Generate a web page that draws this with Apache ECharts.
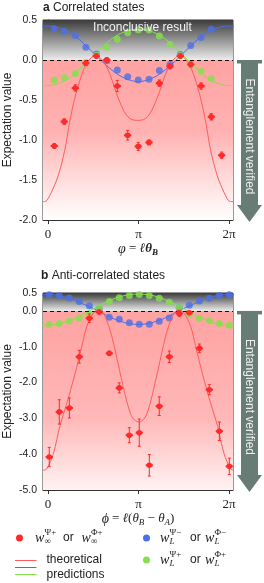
<!DOCTYPE html>
<html><head><meta charset="utf-8">
<script src="https://cdn.jsdelivr.net/npm/echarts@6/dist/echarts.min.js"></script>
<style>html,body{margin:0;padding:0;background:#fff}#c{width:264px;height:583px}</style>
</head><body><div id="c"></div>
<script>
// ---------- data ----------
const xTickValues = [0, 1, 2];            // in units of pi
const xTickLabels = ['0', 'π', '2π'];

// panel a: measured sample positions (units of pi)
const ptXA = [0.070,0.180,0.302,0.419,0.534,0.650,0.766,0.881,0.998,1.117,1.231,1.349,1.463,1.578,1.692,1.805,1.920];
const redA = [-1.075,-0.77,-0.35,-0.04,0.05,0.0,-0.325,-0.94,-1.08,-1.03,-0.29,-0.08,0.05,-0.055,-0.325,-0.71,-1.19];
const redErrA = [0.03,0.035,0.04,0.03,0.03,0.03,0.07,0.06,0.05,0.03,0.04,0.03,0.03,0.03,0.04,0.04,0.04];
const blueA = [0.39,0.355,0.305,0.16,0.075,-0.01,-0.125,-0.21,-0.25,-0.24,-0.13,-0.055,0.07,0.18,0.28,0.385];
const greenA = [-0.25,-0.22,-0.17,-0.03,0.06,0.16,0.26,0.34,0.375,0.375,0.30,0.195,0.055,-0.06,-0.14,-0.235];

// panel b
const ptXB = [0.014,0.125,0.236,0.346,0.457,0.567,0.678,0.788,0.899,1.009,1.120,1.230,1.341,1.451,1.562,1.673,1.783,1.894,2.004];
const redB = [-4.08,-2.82,-2.71,-1.28,-0.205,-0.03,-1.185,-2.15,-3.47,-3.40,-4.31,-2.66,-1.28,-0.07,-0.05,-1.045,-2.2,-3.36,-4.34];
const redErrB = [0.27,0.34,0.28,0.18,0.12,0.05,0.06,0.14,0.21,0.38,0.3,0.26,0.16,0.08,0.05,0.12,0.14,0.26,0.23];
const blueB = [0.448,0.425,0.36,0.26,0.145,0.06,-0.18,-0.235,-0.33,-0.37,-0.37,-0.29,-0.2,0.08,0.155,0.28,0.355,0.43,0.448];
const greenB = [-0.38,-0.355,-0.285,-0.2,-0.08,0.08,0.26,0.365,0.43,0.455,0.43,0.355,0.245,0.085,-0.09,-0.205,-0.27,-0.355,-0.40];
const hErr = 0.04;

// theoretical curves
const redCurveAx = [-0.052,-0.022,0.022,0.055,0.096,0.133,0.169,0.199,0.224,0.265,0.310,0.354,0.398,0.442,0.486,0.531,0.575,0.619,0.663,0.708,0.752,0.796,0.840,0.884,0.929,0.992,1.055,1.099,1.143,1.187,1.232,1.276,1.320,1.364,1.409,1.453,1.497,1.541,1.585,1.630,1.674,1.718,1.759,1.784,1.814,1.851,1.887,1.928,1.961,2.006,2.049];
const redCurveAy = [-1.77,-1.765,-1.69,-1.61,-1.5,-1.37,-1.21,-1.05,-0.875,-0.63,-0.42,-0.25,-0.11,-0.02,0.035,0.05,0.03,-0.03,-0.12,-0.25,-0.4,-0.53,-0.64,-0.71,-0.745,-0.755,-0.745,-0.71,-0.64,-0.53,-0.4,-0.25,-0.12,-0.03,0.03,0.05,0.035,-0.02,-0.11,-0.25,-0.42,-0.63,-0.875,-1.05,-1.21,-1.37,-1.5,-1.61,-1.69,-1.765,-1.77];
const redCurveBx = [-0.052,-0.014,0.059,0.133,0.207,0.299,0.373,0.428,0.501,0.556,0.611,0.685,0.741,0.815,0.888,0.940,1.003,1.066,1.118,1.191,1.265,1.320,1.394,1.449,1.505,1.578,1.633,1.707,1.799,1.873,1.947,2.020,2.058];
const redCurveBy = [-4.45,-4.41,-3.99,-3.2,-2.59,-1.75,-1.0,-0.44,-0.065,0.03,-0.065,-0.53,-1.09,-1.93,-2.68,-3.0,-3.10,-3.0,-2.68,-1.93,-1.09,-0.53,-0.065,0.03,-0.065,-0.44,-1.0,-1.75,-2.59,-3.2,-3.99,-4.41,-4.45];
const curveX = [-0.1,0,0.1,0.2,0.3,0.4,0.5,0.6,0.7,0.8,0.9,1.0,1.1,1.2,1.3,1.4,1.5,1.6,1.7,1.8,1.9,2.0,2.1];
const blueCurveA = [0.41,0.425,0.41,0.37,0.30,0.20,0.09,-0.02,-0.12,-0.20,-0.25,-0.27,-0.25,-0.20,-0.12,-0.02,0.09,0.20,0.30,0.37,0.41,0.425,0.41];
const greenCurveA = [-0.30,-0.32,-0.30,-0.25,-0.17,-0.06,0.05,0.16,0.26,0.33,0.37,0.385,0.37,0.33,0.26,0.16,0.05,-0.06,-0.17,-0.25,-0.30,-0.32,-0.30];
const blueCurveB = [0.44,0.46,0.44,0.38,0.29,0.18,0.07,-0.06,-0.19,-0.29,-0.355,-0.38,-0.355,-0.29,-0.19,-0.06,0.07,0.18,0.29,0.38,0.44,0.46,0.44];
const greenCurveB = [-0.38,-0.40,-0.38,-0.31,-0.21,-0.08,0.06,0.19,0.31,0.40,0.455,0.47,0.455,0.40,0.31,0.19,0.06,-0.08,-0.21,-0.31,-0.38,-0.40,-0.38];

// ---------- style ----------
const RED = '#ff2a2a', REDL = '#ff5c5c', BLUE = '#4d6fe6', GREEN = '#86e04c';
const SANS = 'Liberation Sans, Arial, sans-serif', SERIF = 'Liberation Serif, Times New Roman, serif';
const XMIN = -0.055, XMAX = 2.045;

const zip = (xs, ys) => ys.map((y, i) => [xs[i], y]);

function xAxis(gi, nameRich, name) {
  return {
    type: 'value', gridIndex: gi, min: XMIN, max: XMAX,
    splitLine: { show: false },
    axisLine: { show: true, onZero: false, lineStyle: { color: '#333', width: 1 } },
    axisTick: { show: true, customValues: xTickValues, length: 4, lineStyle: { color: '#333' } },
    axisLabel: { customValues: xTickValues, formatter: v => xTickLabels[xTickValues.indexOf(Math.round(v))],
      fontFamily: SERIF, fontSize: 13, color: '#222', margin: 8 },
    name: name, nameLocation: 'middle', nameGap: 17,
    nameTextStyle: { color: '#222', rich: nameRich }
  };
}
function yAxis(gi, min, max, interval) {
  return {
    type: 'value', gridIndex: gi, min, max, interval,
    splitLine: { show: false },
    axisLine: { show: true, lineStyle: { color: '#333' } },
    axisTick: { show: true, length: 4, lineStyle: { color: '#333' } },
    axisLabel: { formatter: v => v.toFixed(1), fontFamily: SANS, fontSize: 10.5, color: '#222', margin: 6 },
    name: 'Expectation value', nameLocation: 'middle', nameGap: 29, nameMoveOverlap: false,
    nameTextStyle: { fontFamily: SANS, fontSize: 12, color: '#222' }
  };
}
function background(gi, ymin, ymax, pinkStops) {
  return {
    type: 'scatter', xAxisIndex: gi, yAxisIndex: gi, data: [], z: 1, silent: true,
    markArea: {
      silent: true,
      data: [
        [{ yAxis: ymax, itemStyle: { color: { type: 'linear', x: 0, y: 0, x2: 0, y2: 1,
            colorStops: [{ offset: 0, color: '#3c3c3c' }, { offset: 1, color: '#ececec' }] } } }, { yAxis: 0 }],
        [{ yAxis: 0, itemStyle: { color: { type: 'linear', x: 0, y: 0, x2: 0, y2: 1, colorStops: pinkStops } } }, { yAxis: ymin }]
      ]
    },
    markLine: {
      silent: true, symbol: 'none', label: { show: false },
      lineStyle: { color: '#111', type: [4, 3], width: 1.2 },
      data: [{ yAxis: 0 }]
    }
  };
}
function line(gi, data, color, z) {
  return { type: 'line', xAxisIndex: gi, yAxisIndex: gi, data, smooth: 0.35, showSymbol: false,
    lineStyle: { color, width: 1 }, z: z || 3, silent: true };
}
function dots(gi, data, color) {
  return { type: 'scatter', xAxisIndex: gi, yAxisIndex: gi, data, symbolSize: 7,
    itemStyle: { color }, z: 4, silent: true };
}
function errPoints(gi, xs, ys, es) {
  return {
    type: 'custom', xAxisIndex: gi, yAxisIndex: gi, z: 6, silent: true,
    data: xs.map((x, i) => [x, ys[i], es[i]]),
    renderItem(params, api) {
      const x = api.value(0), y = api.value(1), e = api.value(2);
      const c = api.coord([x, y]), t = api.coord([x, y + e]), b = api.coord([x, y - e]);
      const l = api.coord([x - hErr, y]), r = api.coord([x + hErr, y]);
      const st = { stroke: RED, lineWidth: 1 };
      return { type: 'group', children: [
        { type: 'line', shape: { x1: c[0], y1: t[1], x2: c[0], y2: b[1] }, style: st },
        { type: 'line', shape: { x1: c[0] - 1.5, y1: t[1], x2: c[0] + 1.5, y2: t[1] }, style: st },
        { type: 'line', shape: { x1: c[0] - 1.5, y1: b[1], x2: c[0] + 1.5, y2: b[1] }, style: st },
        { type: 'line', shape: { x1: l[0], y1: c[1], x2: r[0], y2: c[1] }, style: { stroke: RED, lineWidth: 2 } },
        { type: 'circle', shape: { cx: c[0], cy: c[1], r: 2.8 }, style: { fill: RED } }
      ] };
    }
  };
}

const richA = {
  v: { fontFamily: SERIF, fontStyle: 'italic', fontSize: 14, lineHeight: 16 },
  e: { fontFamily: SERIF, fontSize: 13, lineHeight: 16 },
  bi: { fontFamily: SERIF, fontStyle: 'italic', fontWeight: 'bold', fontSize: 13, lineHeight: 16 },
  sb: { fontFamily: SERIF, fontStyle: 'italic', fontWeight: 'bold', fontSize: 9, lineHeight: 11, verticalAlign: 'bottom' },
  s: { fontFamily: SERIF, fontStyle: 'italic', fontSize: 9, lineHeight: 11, verticalAlign: 'bottom' },
  i: { fontFamily: SERIF, fontStyle: 'italic', fontSize: 13, lineHeight: 16 }
};

const titleStyle = { fontFamily: SANS, fontSize: 12, fontWeight: 'normal', color: '#222',
  rich: { b: { fontFamily: SANS, fontSize: 12, fontWeight: 'bold', color: '#222' } } };

const option = {
  animation: false,
  backgroundColor: '#fff',
  title: [
    { text: '{b|a} Correlated states', left: 43, top: 2, padding: 0, textStyle: titleStyle },
    { text: '{b|b} Anti-correlated states', left: 41, top: 270, padding: 0, textStyle: titleStyle }
  ],
  grid: [
    { left: 43, top: 20, width: 190, height: 200, show: true, borderColor: '#333', borderWidth: 1,
      backgroundColor: 'transparent', outerBoundsMode: 'none', containLabel: false },
    { left: 43, top: 293, width: 190, height: 197, show: true, borderColor: '#333', borderWidth: 1,
      backgroundColor: 'transparent', outerBoundsMode: 'none', containLabel: false }
  ],
  xAxis: [
    xAxis(0, richA, '{v|φ}{e| = }{bi|ℓθ}{sb|B}'),
    xAxis(1, richA, '{v|ϕ}{e| = }{i|ℓ}{e|(}{i|θ}{s|B}{e| − }{i|θ}{s|A}{e|)}')
  ],
  yAxis: [yAxis(0, -2, 0.5, 0.5), yAxis(1, -5, 0.5, 1)],
  series: [
    background(0, -2, 0.5, [{ offset: 0, color: '#ffa2a2' }, { offset: 0.45, color: '#ffb2b2' }, { offset: 1, color: '#ffffff' }]),
    background(1, -5, 0.5, [{ offset: 0, color: '#ffa2a2' }, { offset: 0.6, color: '#ffb8b8' }, { offset: 1, color: '#fff2f2' }]),
    line(0, zip(curveX, blueCurveA), BLUE),
    line(0, zip(curveX, greenCurveA), GREEN),
    dots(0, zip(ptXA, blueA), BLUE),
    dots(0, zip(ptXA, greenA), GREEN),
    line(0, zip(redCurveAx, redCurveAy), REDL, 5),
    errPoints(0, ptXA, redA, redErrA),
    line(1, zip(curveX, blueCurveB), BLUE),
    line(1, zip(curveX, greenCurveB), GREEN),
    dots(1, zip(ptXB, blueB), BLUE),
    dots(1, zip(ptXB, greenB), GREEN),
    line(1, zip(redCurveBx, redCurveBy), REDL, 5),
    errPoints(1, ptXB, redB, redErrB)
  ]
};

const chart = echarts.init(document.getElementById('c'), null, { renderer: 'canvas' });
chart.setOption(option);

// ---------- arrows + annotations placed from the axes ----------
const ARROW = '#687c76';
function arrowEls(gi, ymin) {
  const p0 = chart.convertToPixel({ xAxisIndex: gi, yAxisIndex: gi }, [XMAX, 0]);
  const pb = chart.convertToPixel({ xAxisIndex: gi, yAxisIndex: gi }, [XMAX, ymin]);
  const cx = p0[0] + 16.5, top = p0[1], tip = pb[1] + 2, headTop = tip - 17;
  return [
    { type: 'rect', shape: { x: cx - 12.5, y: top, width: 25, height: 3.5 }, style: { fill: ARROW }, z: 10 },
    { type: 'rect', shape: { x: cx - 8.5, y: top, width: 17, height: headTop - top + 0.5 }, style: { fill: ARROW }, z: 10 },
    { type: 'polygon', shape: { points: [[cx - 12.5, headTop], [cx + 12.5, headTop], [cx, tip]] }, style: { fill: ARROW }, z: 10 },
    { type: 'text', x: cx, y: (top + headTop) / 2 + 4, rotation: -Math.PI / 2,
      style: { text: 'Entanglement verified', fill: '#eef0ee', font: '12px ' + SANS, align: 'center', verticalAlign: 'middle' }, z: 11 }
  ];
}
const pInc = chart.convertToPixel({ xAxisIndex: 0, yAxisIndex: 0 }, [1, 0.41]);
const incl = { type: 'text', x: pInc[0] + 4, y: pInc[1], z: 12,
  style: { text: 'Inconclusive result', fill: '#f2f2f2', font: '12px ' + SANS, align: 'center', verticalAlign: 'middle' } };

// legend
function wLabel(x, y, sub, sup, subItalic) {
  return [
    { type: 'text', x, y, style: { text: 'w', font: 'italic 14px ' + SERIF, fill: '#222', verticalAlign: 'middle' } },
    { type: 'text', x: x + 9.5, y: y - 5.5, style: { text: sup, font: '9px ' + SERIF, fill: '#222', verticalAlign: 'middle' } },
    { type: 'text', x: x + 9.5, y: y + 3.5, style: { text: sub, font: (subItalic ? 'italic ' : '') + '9px ' + SERIF, fill: '#222', verticalAlign: 'middle' } }
  ];
}
function orText(x, y) { return { type: 'text', x, y, style: { text: 'or', font: '12px ' + SANS, fill: '#222', verticalAlign: 'middle' } }; }
const legend = [].concat(
  [{ type: 'circle', shape: { cx: 19.5, cy: 538, r: 3.5 }, style: { fill: RED } }],
  wLabel(35, 538, '∞', 'Ψ+', false), [orText(63, 538)], wLabel(81.5, 538, '∞', 'Φ+', false),
  [{ type: 'circle', shape: { cx: 146.5, cy: 538, r: 3.5 }, style: { fill: BLUE } }],
  wLabel(160, 538, 'L', 'Ψ−', true), [orText(190, 538)], wLabel(205, 538, 'L', 'Φ−', true),
  [{ type: 'circle', shape: { cx: 146.5, cy: 560, r: 3.5 }, style: { fill: GREEN } }],
  wLabel(160, 560, 'L', 'Ψ+', true), [orText(190, 560)], wLabel(205, 560, 'L', 'Φ+', true),
  [
    { type: 'line', shape: { x1: 15, y1: 560.5, x2: 36.5, y2: 560.5 }, style: { stroke: REDL, lineWidth: 1 } },
    { type: 'line', shape: { x1: 15, y1: 567.5, x2: 36.5, y2: 567.5 }, style: { stroke: BLUE, lineWidth: 1 } },
    { type: 'line', shape: { x1: 15, y1: 574.5, x2: 36.5, y2: 574.5 }, style: { stroke: GREEN, lineWidth: 1 } },
    { type: 'text', x: 46.5, y: 560, style: { text: 'theoretical', font: '12px ' + SANS, fill: '#222', verticalAlign: 'middle' } },
    { type: 'text', x: 46.5, y: 575, style: { text: 'predictions', font: '12px ' + SANS, fill: '#222', verticalAlign: 'middle' } }
  ]
);

chart.setOption({ graphic: { elements: [].concat(arrowEls(0, -2), arrowEls(1, -5), [incl], legend) } });
</script></body></html>
